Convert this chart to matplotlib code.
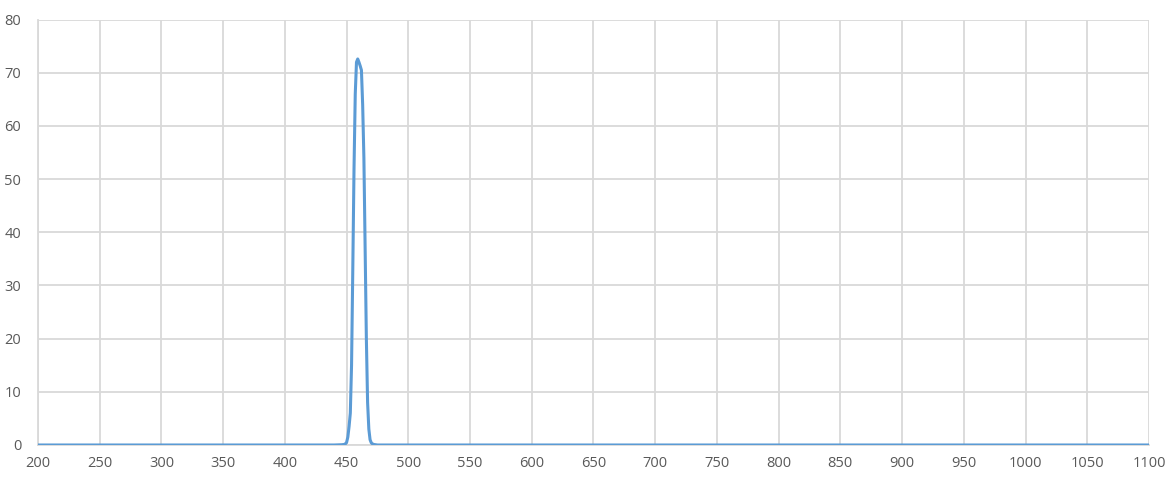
import numpy as np
import matplotlib
matplotlib.use('Agg')
import matplotlib.pyplot as plt

# Transmission curve (wavelength in nm, transmission in %)
wl_base_left = [200, 300, 400, 440, 446, 448]
t_base_left = [0.0, 0.0, 0.0, 0.0, 0.05, 0.1]
wl_peak = [449, 450, 451, 452, 453, 454, 455, 456, 457, 458, 459, 460,
           461, 462, 463, 464, 465, 466, 467, 468, 469, 470, 471, 472]
t_peak = [0.2, 0.5, 1.5, 3.5, 6.0, 15.0, 33.0, 52.0, 66.0, 72.0, 72.6, 72.0,
          71.3, 70.5, 64.0, 54.0, 37.0, 20.0, 8.0, 3.0, 1.0, 0.4, 0.2, 0.1]
wl_base_right = [475, 500, 600, 700, 800, 900, 1000, 1100]
t_base_right = [0.0, 0.0, 0.0, 0.0, 0.0, 0.0, 0.0, 0.0]

wavelength = wl_base_left + wl_peak + wl_base_right
transmission = t_base_left + t_peak + t_base_right

x_ticks = list(range(200, 1101, 50))
y_ticks = list(range(0, 81, 10))

plt.rcParams['font.family'] = ['Open Sans', 'DejaVu Sans']

fig = plt.figure(figsize=(11.7, 4.79), dpi=100)
ax = fig.add_axes([0.0325, 0.071, 0.9495, 0.888])

ax.plot(wavelength, transmission, color='#5B9BD5', linewidth=2.2,
        solid_joinstyle='round', zorder=3)

ax.set_xlim(200, 1100)
ax.set_ylim(0, 80)
ax.set_xticks(x_ticks)
ax.set_yticks(y_ticks)
ax.grid(True, color='#D9D9D9', linewidth=1.3)
ax.set_axisbelow(True)

for side in ['top', 'right']:
    ax.spines[side].set_visible(False)
ax.spines['left'].set_color('#D9D9D9')
ax.spines['left'].set_linewidth(1.3)
ax.spines['bottom'].set_color('#D9D9D9')
ax.spines['bottom'].set_linewidth(1.3)

ax.tick_params(length=0, labelsize=10.5, labelcolor='#595959')
ax.tick_params(axis='x', pad=8)
ax.tick_params(axis='y', pad=12)

fig.savefig('out.png', dpi=100, facecolor='white')
